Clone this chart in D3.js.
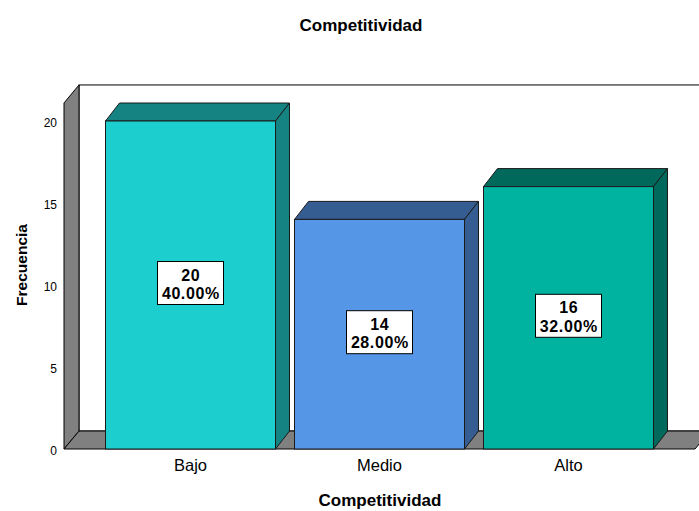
<!DOCTYPE html>
<html>
<head>
<meta charset="utf-8">
<script src="https://cdn.jsdelivr.net/npm/d3@7"></script>
<style>
  html, body { margin: 0; padding: 0; background: #fff; }
  svg { display: block; font-family: "Liberation Sans", Arial, sans-serif; }
</style>
</head>
<body>
<svg id="chart" width="699" height="511"></svg>
<script>
// Frequency of each competitiveness level
const categories = ["Bajo", "Medio", "Alto"];
const frequencies = [20, 14, 16];
const percents = ["40.00%", "28.00%", "32.00%"];
const yTicks = [0, 5, 10, 15, 20];
const frontColors = ["#1ccecd", "#5596e6", "#00b3a0"];
const darkColors = ["#158381", "#355d91", "#00695b"];

const svg = d3.select("#chart");

// Plot geometry: front plane plus an oblique depth offset
const left = 64, right = 695, floorY = 449;
const depthX = 15, depthY = -18;
const barDX = 14, barDY = -18;

const y = d3.scaleLinear().domain([0, 20]).range([floorY, 121]);
const yMax = 21.1;

const x = d3.scaleBand()
  .domain(categories)
  .range([left, right])
  .paddingInner(19 / 189)
  .paddingOuter(0.2196);

const pts = a => a.map(p => p.join(",")).join(" ");

// Back wall
svg.append("rect")
  .attr("x", left + depthX).attr("y", y(yMax) + depthY)
  .attr("width", 760).attr("height", floorY - y(yMax))
  .attr("fill", "#fff").attr("stroke", "#000").attr("stroke-width", 1);

// Left wall
svg.append("polygon")
  .attr("points", pts([[left, y(yMax)], [left + depthX, y(yMax) + depthY],
                       [left + depthX, floorY + depthY], [left, floorY]]))
  .attr("fill", "#808080").attr("stroke", "#000").attr("stroke-width", 1);

// Floor
svg.append("polygon")
  .attr("points", pts([[left, floorY], [left + depthX, floorY + depthY],
                       [right + depthX, floorY + depthY], [right, floorY]]))
  .attr("fill", "#808080").attr("stroke", "#000").attr("stroke-width", 1);

// Bars: top face, right side and front face
const bars = svg.append("g").selectAll("g")
  .data(categories.map((c, i) => ({ c, v: frequencies[i], p: percents[i], i })))
  .join("g");

bars.append("polygon")
  .attr("points", d => {
    const x0 = x(d.c), x1 = x0 + x.bandwidth(), yt = y(d.v);
    return pts([[x0, yt], [x0 + barDX, yt + barDY], [x1 + barDX, yt + barDY], [x1, yt]]);
  })
  .attr("fill", d => darkColors[d.i]).attr("stroke", "#1a1a1a").attr("stroke-width", 1)
  .attr("stroke-linejoin", "round");

bars.append("polygon")
  .attr("points", d => {
    const x1 = x(d.c) + x.bandwidth(), yt = y(d.v);
    return pts([[x1, yt], [x1 + barDX, yt + barDY], [x1 + barDX, floorY + barDY], [x1, floorY]]);
  })
  .attr("fill", d => darkColors[d.i]).attr("stroke", "#1a1a1a").attr("stroke-width", 1)
  .attr("stroke-linejoin", "round");

bars.append("rect")
  .attr("x", d => x(d.c)).attr("y", d => y(d.v))
  .attr("width", x.bandwidth()).attr("height", d => floorY - y(d.v))
  .attr("fill", d => frontColors[d.i]).attr("stroke", "#1a1a1a").attr("stroke-width", 1);

// Value labels in the middle of each bar
const labels = bars.append("g")
  .attr("transform", d => `translate(${x(d.c) + x.bandwidth() / 2},${y(d.v / 2)})`);
labels.append("rect")
  .attr("x", -33).attr("y", -23.5).attr("width", 66).attr("height", 43)
  .attr("fill", "#fff").attr("stroke", "#000").attr("stroke-width", 1);
labels.append("text")
  .attr("text-anchor", "middle").attr("x", 0.3).attr("y", -4.5)
  .attr("font-size", 16).attr("font-weight", "bold").attr("letter-spacing", 0.6)
  .text(d => d.v);
labels.append("text")
  .attr("text-anchor", "middle").attr("x", 0.3).attr("y", 14)
  .attr("font-size", 16).attr("font-weight", "bold").attr("letter-spacing", 0.6)
  .text(d => d.p);

// Y axis tick labels
svg.append("g").selectAll("text")
  .data(yTicks).join("text")
  .attr("x", 57).attr("y", d => y(d) + 6)
  .attr("text-anchor", "end").attr("font-size", 12)
  .text(d => d);

// X axis category labels
svg.append("g").selectAll("text")
  .data(categories).join("text")
  .attr("x", d => x(d) + x.bandwidth() / 2).attr("y", 471)
  .attr("text-anchor", "middle").attr("font-size", 16.5)
  .text(d => d);

// Titles
svg.append("text")
  .attr("x", 361).attr("y", 31).attr("text-anchor", "middle")
  .attr("font-size", 17).attr("font-weight", "bold")
  .text("Competitividad");
svg.append("text")
  .attr("x", 380).attr("y", 506).attr("text-anchor", "middle")
  .attr("font-size", 17).attr("font-weight", "bold")
  .text("Competitividad");
svg.append("text")
  .attr("transform", "translate(27,265) rotate(-90)").attr("text-anchor", "middle")
  .attr("font-size", 15.5).attr("font-weight", "bold")
  .text("Frecuencia");
</script>
</body>
</html>
